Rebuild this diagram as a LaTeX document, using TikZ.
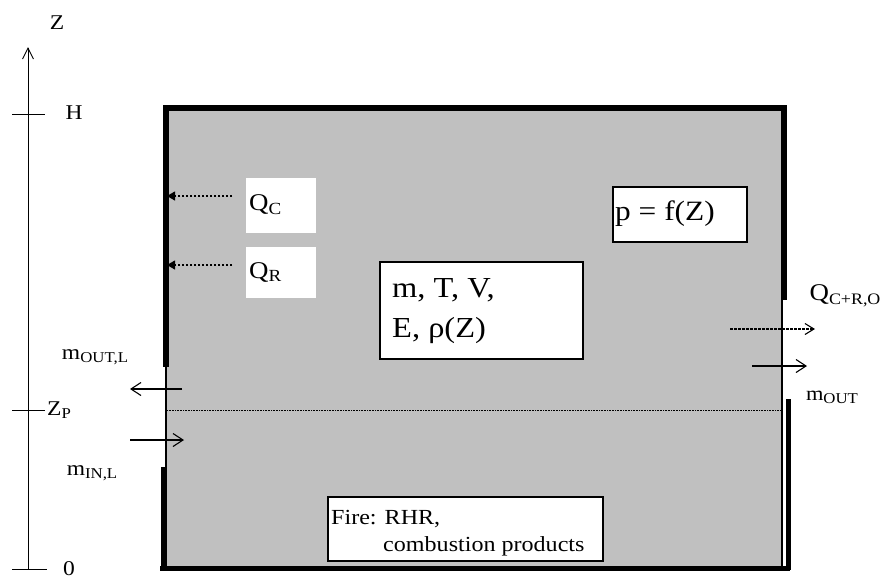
\documentclass[tikz,border=0pt]{standalone}
\usepackage{fontspec}
\setmainfont[FakeStretch=1.12]{Liberation Serif}
\usetikzlibrary{arrows.meta}
\newcommand\sbx[2][14]{\raisebox{-0.35ex}{\fontsize{#1}{#1}\selectfont #2}}
\begin{document}
\begin{tikzpicture}[x=1pt,y=-1pt,
  wall/.style={line width=6.5pt},
  thinwall/.style={line width=1.3pt},
  axisline/.style={line width=0.9pt},
  flow/.style={line width=1.1pt,-{Straight Barb[length=10pt,width=13pt]}},
  heat/.style={line width=1.1pt,dash pattern=on 2.5pt off 1.5pt,-{Triangle[length=8pt,width=9pt]}},
  heatout/.style={line width=1.1pt,dash pattern=on 2.5pt off 1.5pt,-{Straight Barb[length=9pt,width=11pt]}},
  lbl/.style={inner sep=0pt,font=\fontsize{20}{24}\selectfont},
  axlbl/.style={inner sep=0pt,font=\fontsize{21}{24}\selectfont},
  boxed/.style={draw,line width=1.3pt,fill=white,inner sep=0pt},
  plain/.style={fill=white,inner sep=0pt}]
\useasboundingbox (0,0) rectangle (885,579);
% room
\fill[fill={rgb,255:red,192;green,192;blue,192}] (166,108) rectangle (783,566);
% walls
\draw[wall,line cap=rect] (166,364) -- (166,108) -- (784,108) -- (784,297);
\draw[thinwall] (166,364) -- (166,566);
\draw[thinwall] (782,297) -- (782,566);
\draw[line width=5pt] (163,467) -- (163,570);
\draw[line width=5pt] (160,568) -- (790,568);
\draw[line width=5pt] (788,399) -- (788,570);
% neutral plane
\draw[line width=0.6pt,densely dotted] (167,410) -- (781,410);
% axis
\coordinate (a0) at (28,569);
\coordinate (atop) at (28,47);
\draw[axisline,-{Straight Barb[length=11pt,width=11pt]}] (a0) -- (atop);
\draw[axisline] (12,114) -- (45,114);
\draw[axisline] (12,410) -- (45,410);
\draw[axisline] (12,569) -- (47,569);
\node[axlbl] (zl) at (57,23) {Z};
\node[axlbl] (hl) at (74,113) {H};
\node[axlbl,anchor=west] (zpl) at (47,410) {Z\sbx[15]{P}};
\node[axlbl] (ol) at (69,569) {0};
% boxes
\node[plain,minimum width=70pt,minimum height=55pt] (qcbox) at (281,205.5) {};
\node[plain,minimum width=70pt,minimum height=51pt] (qrbox) at (281,272.5) {};
\node[lbl,anchor=west,font=\fontsize{24}{28}\selectfont] (qc) at (249,205) {Q\sbx[17]{C}};
\node[lbl,anchor=west,font=\fontsize{24}{28}\selectfont] (qr) at (249,272) {Q\sbx[17]{R}};
\node[boxed,minimum width=134pt,minimum height=55pt] (pbox) at (680,214.5) {};
\node[lbl,anchor=west,font=\fontsize{28}{32}\selectfont] (pt) at (615,214) {p = f(Z)};
\node[boxed,minimum width=203pt,minimum height=97pt] (mbox) at (481.5,310.5) {};
\node[lbl,anchor=west,font=\fontsize{29}{32}\selectfont] (mt1) at (392,290) {m, T, V,};
\node[lbl,anchor=west,font=\fontsize{29}{32}\selectfont] (mt2) at (392,331) {E, ρ(Z)};
\node[boxed,minimum width=275pt,minimum height=64pt] (fbox) at (465.5,529) {};
\node[lbl,anchor=west,font=\fontsize{21.5}{24}\selectfont] (f1) at (331,519) {Fire: RHR,};
\node[lbl,anchor=west,font=\fontsize{21.5}{24}\selectfont] (f2) at (383,546) {combustion products};
% heat arrows
\coordinate (qcs) at (232,196);
\coordinate (qce) at (167,196);
\coordinate (qrs) at (232,265);
\coordinate (qre) at (167,265);
\draw[heat] (qcs) -- (qce);
\draw[heat] (qrs) -- (qre);
\coordinate (qos) at (730,329);
\coordinate (qoe) at (815,329);
\draw[heatout] (qos) -- (qoe);
% mass flows
\coordinate (mols) at (182,389);
\coordinate (mole) at (130,389);
\draw[flow] (mols) -- (mole);
\coordinate (mils) at (130,440);
\coordinate (mile) at (184,440);
\draw[flow] (mils) -- (mile);
\coordinate (mos) at (752,366);
\coordinate (moe) at (807,366);
\draw[flow] (mos) -- (moe);
% outside labels
\node[lbl,font=\fontsize{21}{24}\selectfont] (mol) at (95,357) {m\sbx[15]{OUT,L}};
\node[lbl,font=\fontsize{21}{24}\selectfont] (mil) at (92,473) {m\sbx[15]{IN,L}};
\node[lbl,font=\fontsize{24}{28}\selectfont] (qol) at (845,296) {Q\sbx[16]{C+R,O}};
\node[lbl,font=\fontsize{20}{24}\selectfont] (mool) at (832,397) {m\sbx[15]{OUT}};
\end{tikzpicture}
\end{document}
